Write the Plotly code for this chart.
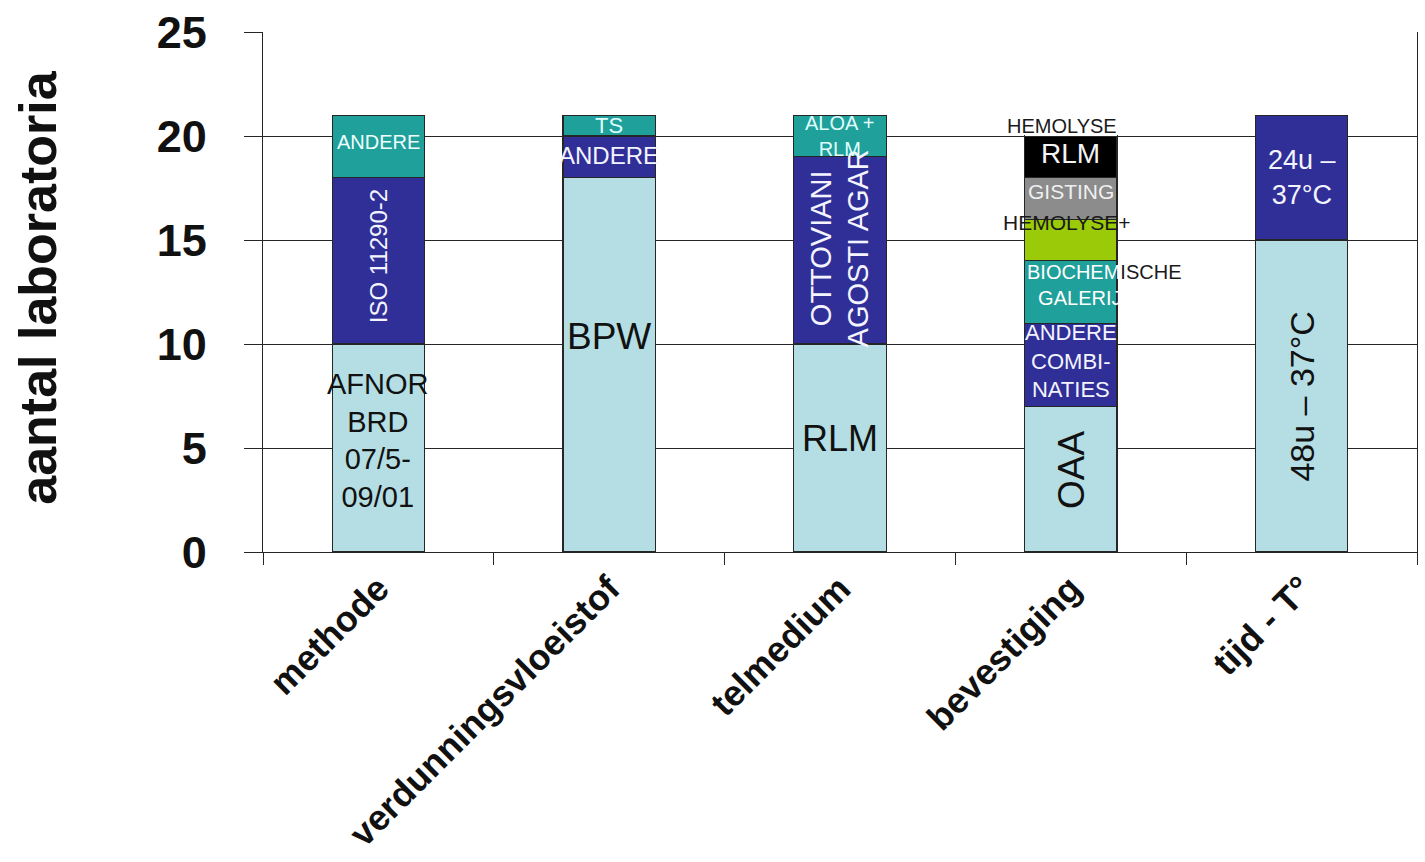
import plotly.graph_objects as go

# ---- data -----------------------------------------------------------------
categories = ["methode", "verdunningsvloeistof", "telmedium", "bevestiging", "tijd - T°"]

methode_labels = ["AFNOR<br>BRD<br>07/5-<br>09/01", "ISO 11290-2", "ANDERE"]
methode_values = [10, 8, 3]

verdunning_labels = ["BPW", "ANDERE", "TS"]
verdunning_values = [18, 2, 1]

telmedium_labels = ["RLM", "OTTOVIANI<br>AGOSTI AGAR", "ALOA +<br>RLM"]
telmedium_values = [10, 9, 2]

bevestiging_labels = [
    "OAA",
    "ANDERE<br>COMBI-<br>NATIES",
    "<span style='color:#FFFFFF'>BIOCHEM</span><span style='color:#1a1a1a'>ISCHE</span><br>&nbsp;&nbsp;GALERIJ",
    "HEMOLYSE+",
    "GISTING",
    "RLM",
    "HEMOLYSE",
]
bevestiging_values = [7, 4, 3, 2, 2, 2, 1]

tijd_labels = ["48u – 37°C", "24u –<br>37°C"]
tijd_values = [15, 6]

y_ticks = [0, 5, 10, 15, 20, 25]

# ---- styling ----------------------------------------------------------------
LIGHT = "#B4DEE3"
NAVY = "#2F2F97"
TEAL = "#1FA09A"
LIME = "#9BCA08"
GREY = "#8C8C8C"
BLACK = "#000000"
WHITE = "#FFFFFF"
EDGE = "#262626"
FONT = "Liberation Sans, Arial, sans-serif"

# per segment: fill, text colour, text size, text angle,
# label shift in px (dy up, dx right), horizontal anchor mode
methode_style = [
    dict(fill=LIGHT, color="#111111", size=29, angle=0, dy=8),
    dict(fill=NAVY, color="#F4F4FF", size=24, angle=-90, dy=5),
    dict(fill=TEAL, color="#EFFFFF", size=20, angle=0, dy=4),
]
verdunning_style = [
    dict(fill=LIGHT, color="#111111", size=37, angle=0, dy=28),
    dict(fill=NAVY, color="#F4F4FF", size=24, angle=0, dy=1),
    dict(fill=TEAL, color="#DFFFFF", size=22, angle=0, dy=0),
]
telmedium_style = [
    dict(fill=LIGHT, color="#111111", size=36, angle=0, dy=10),
    dict(fill=NAVY, color="#F4F4FF", size=29, angle=-90, dy=2),
    dict(fill=TEAL, color="#DFFFFF", size=20, angle=0, dy=0),
]
bevestiging_style = [
    dict(fill=LIGHT, color="#111111", size=37, angle=-90, dy=9),
    dict(fill=NAVY, color="#F4F4FF", size=22, angle=0, dy=4),
    dict(fill=TEAL, color="#FFFFFF", size=20, angle=0, dy=7, anchor="left"),
    dict(fill=LIME, color="#1a1a1a", size=21, angle=0, dy=18, dx=-4),
    dict(fill=GREY, color="#F0F0F0", size=21, angle=0, dy=7),
    dict(fill=BLACK, color="#F4F4F4", size=28, angle=0, dy=3),
    dict(fill=WHITE, color="#1a1a1a", size=20, angle=0, dy=0, dx=-9, noedge=True),
]
tijd_style = [
    dict(fill=LIGHT, color="#111111", size=34, angle=-90, dy=0),
    dict(fill=NAVY, color="#F4F4FF", size=27, angle=0, dy=0),
]

stacks = [
    (methode_labels, methode_values, methode_style),
    (verdunning_labels, verdunning_values, verdunning_style),
    (telmedium_labels, telmedium_values, telmedium_style),
    (bevestiging_labels, bevestiging_values, bevestiging_style),
    (tijd_labels, tijd_values, tijd_style),
]

BAR_WIDTH = 0.4

fig = go.Figure()
annotations = []

for i, (labels, values, styles) in enumerate(stacks):
    base = 0
    for label, value, st in zip(labels, values, styles):
        fig.add_trace(go.Bar(
            x=[categories[i]],
            y=[value],
            width=BAR_WIDTH,
            marker=dict(
                color=st["fill"],
                line=dict(color=EDGE, width=0 if st.get("noedge") else 1.2),
            ),
            showlegend=False,
            hoverinfo="skip",
        ))
        mid = base + value / 2
        if st.get("anchor") == "left":
            ax, xanchor, align = i - BAR_WIDTH / 2, "left", "left"
        else:
            ax, xanchor, align = i, "center", "center"
        annotations.append(dict(
            x=ax, y=mid, xref="x", yref="y",
            text=label, showarrow=False,
            xanchor=xanchor, yanchor="middle", align=align,
            textangle=st["angle"], yshift=st["dy"], xshift=st.get("dx", 0),
            font=dict(family=FONT, size=st["size"], color=st["color"]),
        ))
        base += value

# y-axis title
annotations.append(dict(
    x=-0.195, y=0.51, xref="paper", yref="paper",
    text="aantal laboratoria", showarrow=False, textangle=-90,
    xanchor="center", yanchor="middle",
    font=dict(family=FONT, size=52, color="#111111", weight="bold"),
))

fig.update_layout(
    width=1425, height=862, autosize=False,
    margin=dict(l=263, r=8, t=32, b=310),
    paper_bgcolor="white", plot_bgcolor="white",
    barmode="stack",
    annotations=annotations,
    xaxis=dict(
        type="category", categoryorder="array", categoryarray=categories,
        showline=True, linecolor=EDGE, linewidth=1.2,
        ticks="outside", tickson="boundaries", ticklen=12, tickcolor=EDGE,
        tickangle=-45, showgrid=False, automargin=False,
        tickfont=dict(family=FONT, size=36, color="#111111", weight="bold"),
    ),
    yaxis=dict(
        range=[0, 25], tickvals=y_ticks,
        showgrid=True, gridcolor=EDGE, gridwidth=1.2,
        showline=True, linecolor=EDGE, linewidth=1.2, mirror=True,
        ticks="outside", ticklen=18, tickcolor=EDGE,
        ticklabelstandoff=28, zeroline=False, automargin=False,
        tickfont=dict(family=FONT, size=45, color="#111111", weight="bold"),
    ),
)

fig.write_html("out.html")
